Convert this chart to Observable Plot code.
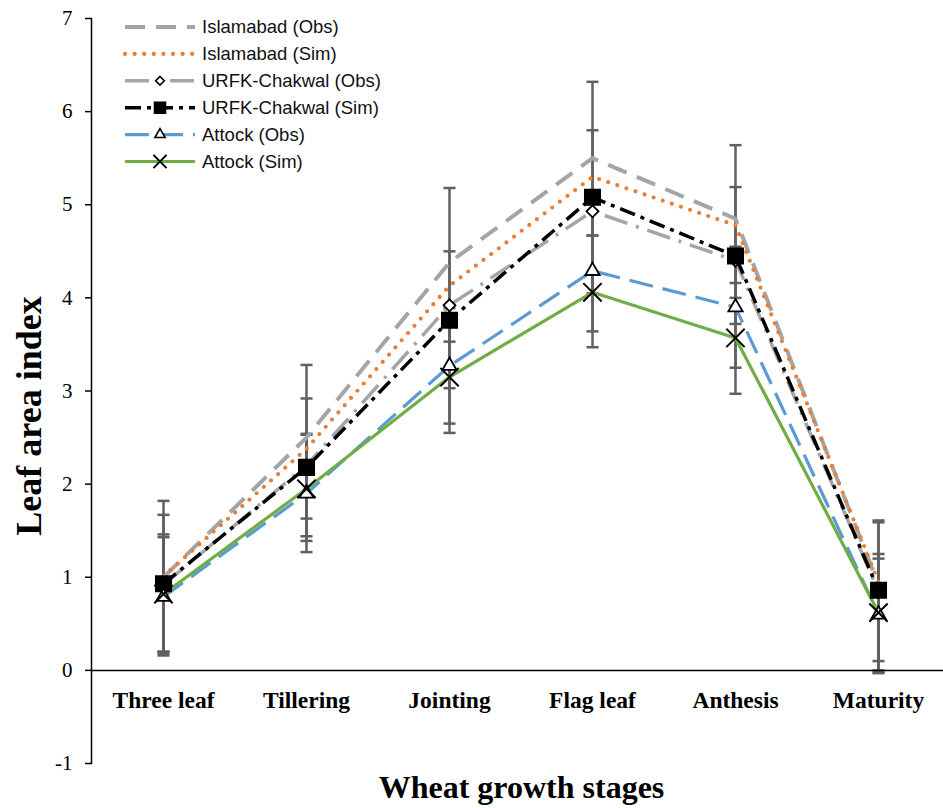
<!DOCTYPE html>
<html><head><meta charset="utf-8">
<script src="https://cdn.jsdelivr.net/npm/d3@7"></script>
<script src="https://cdn.jsdelivr.net/npm/@observablehq/plot@0.6"></script>
<style>
body{margin:0;background:#fff}
#wrap{position:relative;width:943px;height:808px}
#legend{position:absolute;left:0;top:0;pointer-events:none}
</style>
</head><body><div id="wrap"></div>
<script>
// ---- data ----
const stages = ["Three leaf","Tillering","Jointing","Flag leaf","Anthesis","Maturity"];
const seriesNames = ["Islamabad (Obs)","Islamabad (Sim)","URFK-Chakwal (Obs)","URFK-Chakwal (Sim)","Attock (Obs)","Attock (Sim)"];
const islamabadObs = [1.00, 2.50, 4.38, 5.50, 4.85, 0.92];
const islamabadSim = [1.01, 2.38, 4.13, 5.30, 4.78, 0.95];
const urfkObs      = [0.92, 2.20, 3.92, 4.93, 4.40, 0.85];
const urfkSim      = [0.93, 2.18, 3.76, 5.08, 4.45, 0.86];
const attockObs    = [0.79, 1.90, 3.27, 4.29, 3.90, 0.60];
const attockSim    = [0.82, 1.95, 3.15, 4.06, 3.57, 0.62];
// error bars (4 per stage): upper and lower ends
const errHigh = [[1.82,1.67,1.46,1.43],[3.28,2.92,2.54,2.53],[5.18,4.50,3.89,3.75],[6.32,5.80,4.93,4.67],[5.64,5.19,4.55,4.16],[1.61,1.59,1.25,1.20]];
const errLow  = [[0.16,0.20,0.18,0.20],[1.63,1.44,1.27,1.39],[3.53,3.03,2.65,2.55],[4.67,4.05,3.64,3.47],[4.00,3.72,3.25,2.97],[0.10,-0.02,-0.03,0.00]];
const yTicks = [-1,0,1,2,3,4,5,6,7];
const xTitle = "Wheat growth stages";
const yTitle = "Leaf area index";

const seriesValues = [islamabadObs, islamabadSim, urfkObs, urfkSim, attockObs, attockSim];
const styles = [
  {stroke:"#A5A5A5", strokeWidth:4, dash:"20,11", cap:"butt", symbol:null},
  {stroke:"#ED7D31", strokeWidth:4.2, dash:"0,9.6", cap:"round", symbol:null},
  {stroke:"#A5A5A5", strokeWidth:3.5, dash:"24,9,3,9", cap:"butt", symbol:"diamond2", r:5.4, fill:"#fff", mstroke:"#000"},
  {stroke:"#000000", strokeWidth:3.5, dash:"16,6,4,6", cap:"butt", symbol:"square", r:8.6, fill:"#000", mstroke:"#000"},
  {stroke:"#5B9BD5", strokeWidth:3.2, dash:"24,10", cap:"butt", symbol:"triangle2", r:6.8, fill:"#fff", mstroke:"#000"},
  {stroke:"#70AD47", strokeWidth:3.2, dash:null, cap:"butt", symbol:"times", r:8.4, fill:"none", mstroke:"#000"}
];

const rows = [];
seriesNames.forEach((s, k) => stages.forEach((st, i) => rows.push({series:s, stage:st, value:seriesValues[k][i]})));
const errRows = [];
stages.forEach((st, i) => errHigh[i].forEach((h, j) => errRows.push({stage:st, hi:h, lo:errLow[i][j]})));

// horizontal cap symbol for error bars
const capSymbol = {draw(ctx, size){ const w = Math.sqrt(size); ctx.moveTo(-w, 0); ctx.lineTo(w, 0); }};

const serif = "'Liberation Serif','Times New Roman',serif";
const lineMarks = seriesNames.map((s, k) => Plot.line(rows.filter(d => d.series === s), {
  x:"stage", y:"value", stroke:styles[k].stroke, strokeWidth:styles[k].strokeWidth,
  strokeDasharray:styles[k].dash || undefined, strokeLinecap:styles[k].cap, strokeLinejoin:"round"
}));
const dotMarks = seriesNames.map((s, k) => styles[k].symbol ? Plot.dot(rows.filter(d => d.series === s), {
  x:"stage", y:"value", symbol:styles[k].symbol, r:styles[k].r, fill:styles[k].fill,
  stroke:styles[k].mstroke, strokeWidth:styles[k].symbol === "times" ? 2 : 1.8
}) : null).filter(Boolean);

const chart = Plot.plot({
  width:943, height:808, marginLeft:91, marginRight:0, marginTop:18, marginBottom:45,
  style:{fontFamily:serif, background:"#fff", color:"#000", overflow:"visible"},
  x:{type:"point", domain:stages, range:[161,880], padding:0, axis:null},
  y:{domain:[-1,7], range:[763,18], axis:null},
  marks:[
    Plot.ruleX(errRows, {x:"stage", y1:"lo", y2:"hi", stroke:"#606060", strokeWidth:2.5}),
    Plot.dot(errRows, {x:"stage", y:"hi", symbol:capSymbol, r:3.4, stroke:"#606060", strokeWidth:2.5, fill:"none"}),
    Plot.dot(errRows, {x:"stage", y:"lo", symbol:capSymbol, r:3.4, stroke:"#606060", strokeWidth:2.5, fill:"none"}),
    ...lineMarks,
    ...dotMarks,
    Plot.frame({anchor:"left", stroke:"#000", strokeWidth:1.5}),
    Plot.ruleY([0], {stroke:"#000", strokeWidth:1.5}),
    Plot.axisY(yTicks, {tickSize:6, tickPadding:13, fontSize:21, label:null, stroke:"#000", strokeWidth:1.5, fill:"#000", tickFormat:d => String(d)}),
    Plot.text(stages, {x:d => d, y:() => 0, dy:30, fontWeight:"bold", fontSize:23.5, fill:"#000"}),
    Plot.text([xTitle], {frameAnchor:"bottom", textAnchor:"middle", lineAnchor:"middle", dx:4, dy:24, fontWeight:"bold", fontSize:32, fill:"#000"}),
    Plot.text([yTitle], {frameAnchor:"left", textAnchor:"middle", lineAnchor:"middle", rotate:-90, dx:-62, dy:25, fontWeight:"bold", fontSize:36, fill:"#000"})
  ]
});
const wrap = document.getElementById("wrap");
wrap.appendChild(chart);

// ---- legend overlay ----
const lg = d3.select(wrap).append("svg").attr("id","legend").attr("width",943).attr("height",200);
seriesNames.forEach((s, k) => {
  const y = 27 + 26.9 * k;
  const st = styles[k];
  const g = lg.append("g");
  g.append("line").attr("x1",125).attr("x2",195).attr("y1",y).attr("y2",y)
    .attr("stroke",st.stroke).attr("stroke-width",st.strokeWidth)
    .attr("stroke-dasharray",st.dash).attr("stroke-linecap",st.cap);
  if (st.symbol) {
    const sym = {diamond2:d3.symbolDiamond2, square:d3.symbolSquare, triangle2:d3.symbolTriangle2, times:d3.symbolTimes}[st.symbol];
    const size = Math.PI * Math.pow(st.r * 0.72, 2);
    g.append("path").attr("d", d3.symbol(sym, size)()).attr("transform",`translate(160,${y})`)
      .attr("fill",st.fill).attr("stroke",st.mstroke).attr("stroke-width",st.symbol==="times"?2:1.6);
  }
  g.append("text").attr("x",202).attr("y",y).attr("dy","0.35em")
    .attr("font-family","'Liberation Sans',Arial,sans-serif").attr("font-size",18.5).attr("fill","#111").text(s);
});
</script>
</body></html>
